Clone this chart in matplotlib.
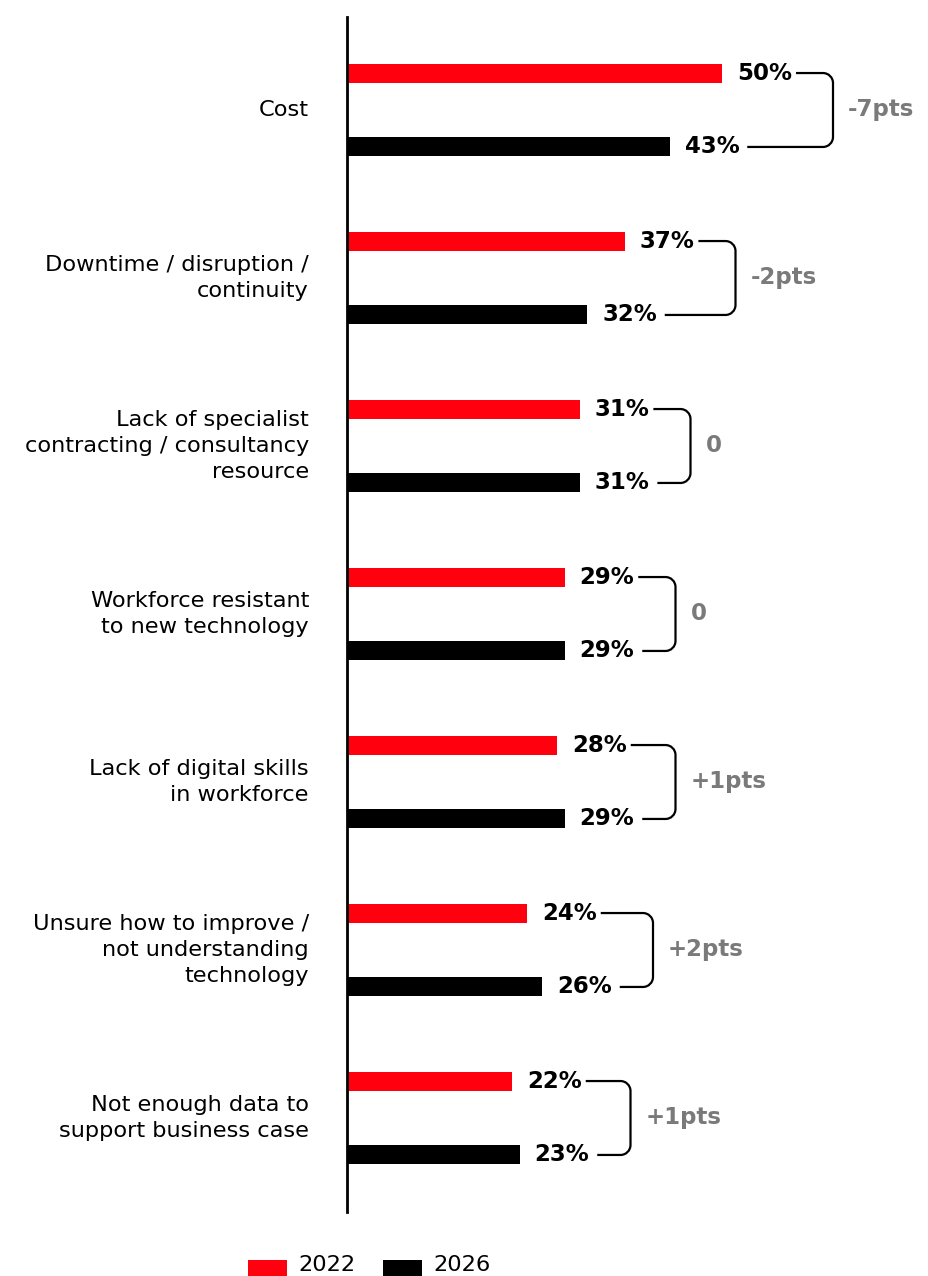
import matplotlib
matplotlib.use("Agg")
import matplotlib.pyplot as plt
from matplotlib.path import Path
from matplotlib.patches import PathPatch, Rectangle

categories = [
    "Cost",
    "Downtime / disruption /\ncontinuity",
    "Lack of specialist\ncontracting / consultancy\nresource",
    "Workforce resistant\nto new technology",
    "Lack of digital skills\nin workforce",
    "Unsure how to improve /\nnot understanding\ntechnology",
    "Not enough data to\nsupport business case",
]
values_2022 = [50, 37, 31, 29, 28, 24, 22]
values_2026 = [43, 32, 31, 29, 29, 26, 23]
series_labels = ["2022", "2026"]
change_labels = ["-7pts", "-2pts", "0", "0", "+1pts", "+2pts", "+1pts"]

RED = "#FF000F"
BLACK = "#000000"
GREY = "#7A7A7A"

W, H = 929, 1276
fig = plt.figure(figsize=(W / 100, H / 100), dpi=100)
ax_left, ax_bottom = 347 / W, 1 - 1212 / H
ax = fig.add_axes([ax_left, ax_bottom, 1 - ax_left, (1212 - 17) / H])

px_per_x = 7.5
px_per_y = 168.0
ax.set_xlim(0, (W - 347) / px_per_x)
ax.set_ylim((1212 - 1118) / px_per_y + 6, -(110 - 17) / px_per_y)

offset = 0.22
bar_h = 19 / px_per_y
ys = list(range(len(categories)))
y_red = [y - offset for y in ys]
y_blk = [y + offset for y in ys]
ax.barh(y_red, values_2022, height=bar_h, color=RED, left=0)
ax.barh(y_blk, values_2026, height=bar_h, color=BLACK, left=0)

for s in ["top", "right", "bottom"]:
    ax.spines[s].set_visible(False)
ax.spines["left"].set_linewidth(2)
ax.set_xticks([])
ax.set_yticks([])

label_font = dict(family="DejaVu Sans", fontweight="bold", fontsize=16.5)
cat_font = dict(family="DejaVu Sans", fontsize=16.2)

# category labels
for y, cat in zip(ys, categories):
    ax.text(-38 / px_per_x, y, cat, ha="right", va="center",
            linespacing=1.4, **cat_font)

gap = 15 / px_per_x
texts_red, texts_blk = [], []
for yr, yb, v1, v2 in zip(y_red, y_blk, values_2022, values_2026):
    texts_red.append(ax.text(v1 + gap, yr, f"{v1}%", ha="left", va="center", **label_font))
    texts_blk.append(ax.text(v2 + gap, yb, f"{v2}%", ha="left", va="center", **label_font))

fig.canvas.draw()
renderer = fig.canvas.get_renderer()
inv = ax.transData.inverted()

def right_edge(t):
    bb = t.get_window_extent(renderer)
    return inv.transform((bb.x1, bb.y0))[0]

# brackets connecting the two years
rx = 10 / px_per_x
ry = 10 / px_per_y
k = 0.5523
for i, (yr, yb, v1, v2) in enumerate(zip(y_red, y_blk, values_2022, values_2026)):
    xb = max(v1, v2) + 111 / px_per_x
    x_top = min(right_edge(texts_red[i]) + 4 / px_per_x, xb - rx)
    x_bot = min(right_edge(texts_blk[i]) + 8 / px_per_x, xb - rx)
    verts = [
        (x_top, yr),
        (xb - rx, yr),
        (xb - rx + k * rx, yr), (xb, yr + ry - k * ry), (xb, yr + ry),
        (xb, yb - ry),
        (xb, yb - ry + k * ry), (xb - rx + k * rx, yb), (xb - rx, yb),
        (x_bot, yb),
    ]
    codes = [Path.MOVETO, Path.LINETO,
             Path.CURVE4, Path.CURVE4, Path.CURVE4,
             Path.LINETO,
             Path.CURVE4, Path.CURVE4, Path.CURVE4,
             Path.LINETO]
    ax.add_patch(PathPatch(Path(verts, codes), fill=False, lw=1.6,
                           edgecolor=BLACK, clip_on=False))
    ax.text(xb + 15 / px_per_x, (yr + yb) / 2, change_labels[i], ha="left",
            va="center", color=GREY, **label_font)

# legend
for x0, color, lab in [(248, RED, series_labels[0]), (383, BLACK, series_labels[1])]:
    fig.add_artist(Rectangle((x0 / W, 1 - 1276 / H), 39 / W, 16 / H,
                             transform=fig.transFigure, color=color, lw=0))
    fig.text((x0 + 50) / W, 1 - 1265 / H, lab, ha="left", va="center", **cat_font)

fig.savefig("out.png", dpi=100, facecolor="white")
